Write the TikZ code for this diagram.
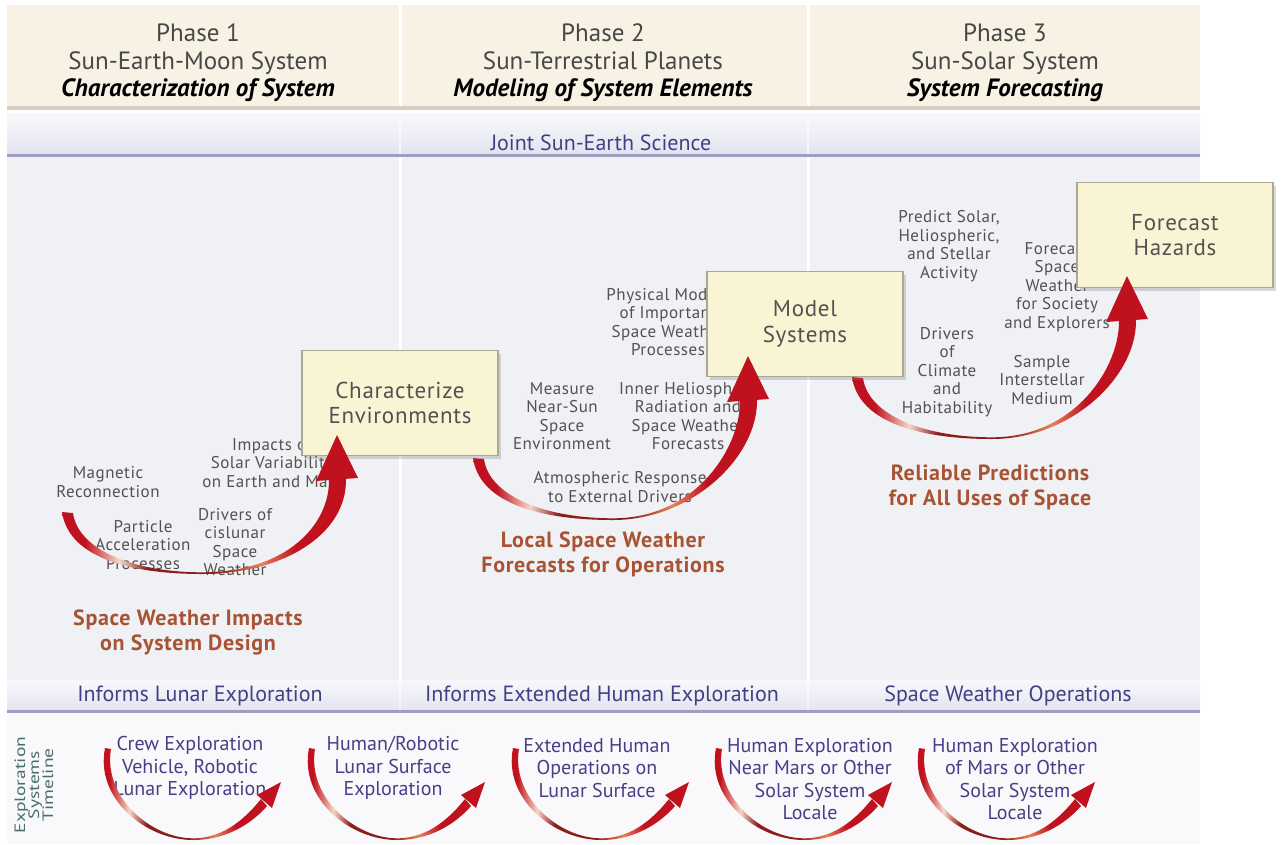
\documentclass[tikz,border=0pt]{standalone}
\usepackage{fontspec}
\setmainfont{PT Sans}
\newfontfamily\spacedfont[LetterSpace=3]{PT Sans}
\newfontfamily\longfont[FakeStretch=1.3]{PT Sans}
\usetikzlibrary{positioning,shadows}

\definecolor{headbg}{RGB}{248,242,228}
\definecolor{headrule}{RGB}{214,206,192}
\definecolor{bandtop}{RGB}{248,248,252}
\definecolor{bandbot}{RGB}{228,228,240}
\definecolor{bandrule}{RGB}{160,158,192}
\definecolor{bodybg}{RGB}{240,241,244}
\definecolor{lowbg}{RGB}{249,249,251}
\definecolor{boxfill}{RGB}{249,245,212}
\definecolor{boxline}{RGB}{170,168,148}
\definecolor{labgray}{RGB}{82,82,82}
\definecolor{rust}{RGB}{168,84,52}
\definecolor{bandblue}{RGB}{66,64,132}
\definecolor{lowblue}{RGB}{72,62,135}
\definecolor{tealgray}{RGB}{72,112,104}
\definecolor{sred}{RGB}{192,18,30}
\definecolor{sdark}{RGB}{140,30,25}
\definecolor{slight}{RGB}{246,214,196}
\definecolor{sorange}{RGB}{232,128,88}

\pgfdeclarehorizontalshading{swooshshade}{100bp}{
  color(0bp)=(sred); color(25bp)=(sred); color(29bp)=(sred);
  color(35bp)=(slight); color(40bp)=(sdark); color(52bp)=(sdark);
  color(60bp)=(sorange); color(66bp)=(sred); color(75bp)=(sred); color(100bp)=(sred)}

\begin{document}
\begin{tikzpicture}[
  x=1pt, y=-1pt,
  every node/.style = {inner sep=0pt},
  phase/.style   = {font=\fontsize{25}{27.5}\selectfont, text=black!72, align=center},
  band/.style    = {font=\fontsize{22}{24}\selectfont, text=bandblue},
  lab/.style     = {font=\spacedfont\fontsize{17}{18.5}\selectfont, text=labgray, align=center},
  stage/.style   = {draw=boxline, line width=1.5pt, fill=boxfill,
                    minimum width=196, minimum height=105,
                    font=\spacedfont\fontsize{23}{25.5}\selectfont, text=black!68, align=center,
                    drop shadow={opacity=0.3, shadow xshift=3pt, shadow yshift=-3pt}},
  goal/.style    = {font=\spacedfont\bfseries\fontsize{22}{25}\selectfont, text=rust, align=center},
  mission/.style = {font=\fontsize{20}{22.5}\selectfont, text=lowblue, align=center},
  sidebar/.style = {font=\longfont\fontsize{15}{14}\selectfont, text=tealgray, align=center, rotate=90},
  pics/swoosh/.style = {code={
    \shade[shading=swooshshade]
      (0,0) .. controls (6,42) and (60,62) .. (140,62)
            .. controls (220,62) and (285,{100-#1}) .. (284,{44-#1})
      -- (267,{44-#1})
            .. controls (268,{90-#1}) and (224,60.3) .. (140,60.3)
            .. controls (72,60.3) and (16,38) .. (11,1) -- cycle;
  }},
  pics/swoosh head/.style = {code={
    \fill[sred] (254,{46-#1}) -- (296,{43-#1}) -- (275,-#1) -- cycle;
  }},
  pics/small swoosh/.style = {code={
    \shade[shading=swooshshade]
      (0,0) .. controls (-10,50) and (40,92) .. (88,92)
            .. controls (125,92) and (150,72) .. (162,58)
      -- (156,51) .. controls (143,67) and (121,90.3) .. (88,90.3)
            .. controls (46,90.3) and (-2,49) .. (6,1) -- cycle;
    \fill[sred] (152,47) -- (167,60) -- (176,34) -- cycle;
  }},
]
\useasboundingbox (0,0) rectangle (1285,844);

% background bands
\fill[headbg] (7,5) rectangle (1200,107);
\fill[headrule] (7,106) rectangle (1200,110);
\shade[top color=bandtop, bottom color=bandbot] (7,113) rectangle (1200,154);
\fill[bandrule] (7,154) rectangle (1200,157);
\fill[bodybg] (7,157) rectangle (1200,680);
\shade[top color=bandtop, bottom color=bandbot] (7,680) rectangle (1200,710);
\fill[bandrule] (7,710) rectangle (1200,713);
\fill[lowbg] (7,713) rectangle (1200,844);
\foreach \x in {400,808} {
  \fill[white] (\x-1.5,5) rectangle (\x+1.5,106);
  \fill[white] (\x-1.5,157) rectangle (\x+1.5,680);
  \fill[white, opacity=0.6] (\x-1,113) rectangle (\x+1,154);
  \fill[white, opacity=0.6] (\x-1,680) rectangle (\x+1,710);
}

% phase headers
\node[phase] (ph1) at (198,63) {Phase 1\\Sun-Earth-Moon System\\{\color{black}\bfseries\itshape Characterization of System}};
\node[phase] (ph2) at (603,63) {Phase 2\\Sun-Terrestrial Planets\\{\color{black}\bfseries\itshape Modeling of System Elements}};
\node[phase] (ph3) at (1005,63) {Phase 3\\Sun-Solar System\\{\color{black}\bfseries\itshape System Forecasting}};

\node[band] (joint) at (601,143) {Joint Sun-Earth Science};

% phase 1
\node[lab] (mag)      at (108,482) {Magnetic\\Reconnection};
\node[lab] (impacts)  at (272,463) {Impacts of\\Solar Variability\\on Earth and Mars};
\node[lab] (particle) at (143,545) {Particle\\Acceleration\\Processes};
\node[lab] (cislunar) at (235,542) {Drivers of\\cislunar\\Space\\Weather};
\node[goal] (sw1)     at (188,632) {Space Weather Impacts\\on System Design};

% phase 2
\node[lab] (physmod)    at (668,322) {Physical Models\\of Important\\Space Weather\\Processes};
\node[lab] (nearsun)    at (562,416) {Measure\\Near-Sun\\Space\\Environment};
\node[lab] (innerhelio) at (688,416) {Inner Heliosphere\\Radiation and\\Space Weather\\Forecasts};
\node[lab] (atmos)      at (620,487) {Atmospheric Response\\to External Drivers};
\node[goal] (sw2)       at (603,554) {Local Space Weather\\Forecasts for Operations};

% phase 3
\node[lab] (predict) at (949,246) {Predict Solar,\\Heliospheric,\\and Stellar\\Activity};
\node[lab] (fcspace) at (1057,287) {Forecast\\Space\\Weather\\for Society\\and Explorers};
\node[lab] (climate) at (947,372) {Drivers\\of\\Climate\\and\\Habitability};
\node[lab] (sample)  at (1042,380) {Sample\\Interstellar\\Medium};
\node[goal] (sw3)    at (990,487) {Reliable Predictions\\for All Uses of Space};

% swoosh shafts
\pic at (62,512)  {swoosh=77};
\pic at (473,458) {swoosh=102};
\pic at (852,377) {swoosh=101};

% stage boxes
\node[stage] (char)    at (400,403)  {Characterize\\Environments};
\node[stage] (model)   at (805,324)  {Model\\Systems};
\node[stage] (hazards) at (1175,235) {Forecast\\Hazards};

% swoosh heads
\pic at (62,512)  {swoosh head=77};
\pic at (473,458) {swoosh head=102};
\pic at (852,377) {swoosh head=101};

% informs band
\node[band] (inf1) at (200,696)  {Informs Lunar Exploration};
\node[band] (inf2) at (602,696)  {Informs Extended Human Exploration};
\node[band] (inf3) at (1008,696) {Space Weather Operations};

% exploration timeline
\node[sidebar] (est) at (34,785) {Exploration\\Systems\\Timeline};
\node[mission] (cev)      at (190,768)  {Crew Exploration\\Vehicle, Robotic\\Lunar Exploration};
\node[mission] (hrlunar)  at (393,768)  {Human/Robotic\\Lunar Surface\\Exploration};
\node[mission] (extlunar) at (597,768)  {Extended Human\\Operations on\\Lunar Surface};
\node[mission] (nearmars) at (810,779)  {Human Exploration\\Near Mars or Other\\Solar System\\Locale};
\node[mission] (ofmars)   at (1015,779) {Human Exploration\\of Mars or Other\\Solar System\\Locale};

\foreach \x in {105,309,513,716,919}
  \pic at (\x,748) {small swoosh};

\end{tikzpicture}
\end{document}
